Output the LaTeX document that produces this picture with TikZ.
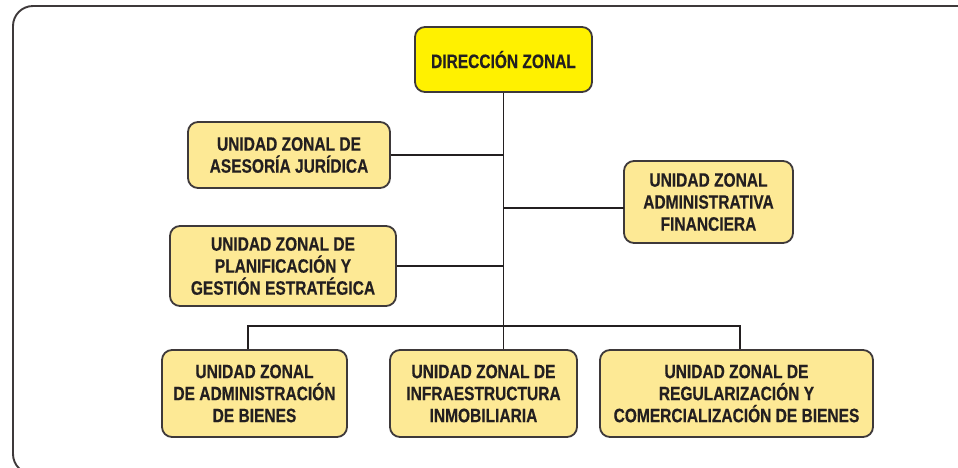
\documentclass[tikz,border=0pt]{standalone}
\usepackage{fontspec}
\setmainfont{Liberation Sans}[FakeStretch=0.8, BoldFeatures={FakeBold=0.4}]
\definecolor{frameC}{HTML}{3E393A}
\definecolor{boxfill}{HTML}{FDE995}
\definecolor{dirfill}{HTML}{FFF100}
\definecolor{txt}{HTML}{231F20}
\tikzset{
  unitbox/.style={draw=frameC, line width=1.8pt, fill=boxfill, rounded corners=10pt,
    inner sep=0pt, align=center, text=txt,
    font=\fontsize{19.4}{22}\selectfont\bfseries},
  dirbox/.style={unitbox, fill=dirfill},
  conn/.style={draw=txt, line width=1.4pt},
}
\begin{document}
\begin{tikzpicture}[x=1pt,y=-1pt]
\useasboundingbox (0,0) rectangle (958,467);
\begin{scope}
\clip (0,0) rectangle (958,467);
\fill[white] (0,0) rectangle (958,467);
\draw[frameC, line width=1.9pt, rounded corners=20pt] (1000,6) -- (13,6) -- (13,474) -- (1000,474);
\end{scope}
% nodes
\node[dirbox, minimum width=177pt, minimum height=65pt] (dir) at (503.5,59.5) {DIRECCIÓN ZONAL};
\node[unitbox, minimum width=202pt, minimum height=66pt] (ases) at (289,155) {UNIDAD ZONAL DE\\ASESORÍA JURÍDICA};
\node[unitbox, minimum width=169pt, minimum height=82pt] (fin) at (708.5,202) {UNIDAD ZONAL\\ADMINISTRATIVA\\FINANCIERA};
\node[unitbox, minimum width=226pt, minimum height=80pt] (plan) at (283,266) {UNIDAD ZONAL DE\\PLANIFICACIÓN Y\\GESTIÓN ESTRATÉGICA};
\node[unitbox, minimum width=185pt, minimum height=87pt] (adm) at (254.5,393.5) {UNIDAD ZONAL\\DE ADMINISTRACIÓN\\DE BIENES};
\node[unitbox, minimum width=187pt, minimum height=87pt] (inf) at (483.5,393.5) {UNIDAD ZONAL DE\\INFRAESTRUCTURA\\INMOBILIARIA};
\node[unitbox, minimum width=273pt, minimum height=87pt] (reg) at (736.5,393.5) {UNIDAD ZONAL DE\\REGULARIZACIÓN Y\\COMERCIALIZACIÓN DE BIENES};
% connectors
\coordinate (finC) at (624,208);
\coordinate (busL) at (248,326);
\coordinate (busR) at (740,326);
\draw[conn] (dir.south) -- (dir.south |- inf.north);
\draw[conn] (ases.east) -- (ases.east -| dir.south);
\draw[conn] (plan.east) -- (plan.east -| dir.south);
\draw[conn] (finC) -- (finC -| dir.south);
\draw[conn] (busL |- adm.north) -- (busL) -- (busR) -- (busR |- reg.north);
\end{tikzpicture}
\end{document}
